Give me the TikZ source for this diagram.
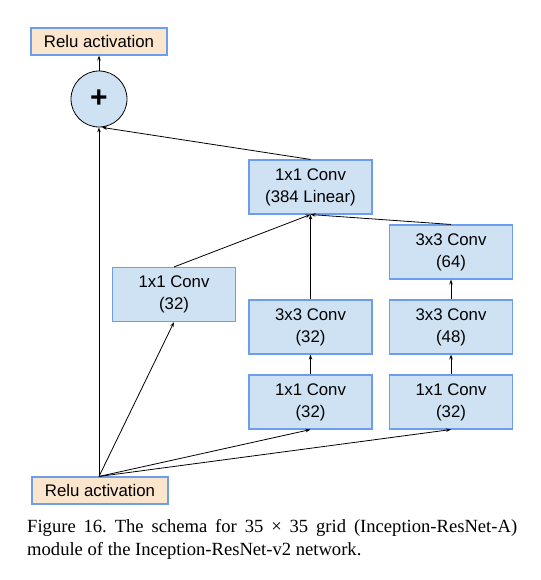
\documentclass[tikz,border=0pt]{standalone}
\usepackage{fontspec}
\setmainfont{Liberation Serif}
\setsansfont{Liberation Sans}
\usetikzlibrary{arrows.meta}
\definecolor{boxblue}{HTML}{CFE2F3}
\definecolor{boxorange}{HTML}{FCE5CD}
\definecolor{edgeblue}{HTML}{6D9EEB}
\frenchspacing
\begin{document}
\begin{tikzpicture}[x=1pt,y=-1pt,
  conv/.style={draw=edgeblue,line width=1.1pt,fill=boxblue,minimum width=123pt,minimum height=54pt,inner sep=0pt,align=center,font=\sffamily\fontsize{16.8}{22}\selectfont},
  relu/.style={draw=edgeblue,line width=1.1pt,fill=boxorange,minimum width=136pt,minimum height=27pt,inner sep=0pt,font=\sffamily\fontsize{16.8}{20}\selectfont},
  sumnode/.style={circle,draw=black,line width=0.8pt,fill=boxblue,minimum size=56pt,inner sep=0pt,font=\sffamily\bfseries\fontsize{30}{30}\selectfont},
  arr/.style={-{Stealth[length=5pt,width=3.5pt]},line width=0.8pt,black},
  captext/.style={anchor=base west,inner sep=0pt,font=\fontsize{18.6}{23}\selectfont}]
\useasboundingbox (0,0) rectangle (540,580);
\node[relu] (top) at (99,41.5) {Relu activation};
\node[sumnode] (sum) at (99,99) {+};
\node[conv] (lin) at (310.5,187) {1x1 Conv\\(384 Linear)};
\node[conv] (a1) at (174,294.5) {1x1 Conv\\(32)};
\node[conv] (b2) at (310.5,327) {3x3 Conv\\(32)};
\node[conv] (b1) at (310.5,402) {1x1 Conv\\(32)};
\node[conv] (c3) at (451,252) {3x3 Conv\\(64)};
\node[conv] (c2) at (451,327) {3x3 Conv\\(48)};
\node[conv] (c1) at (451,402) {1x1 Conv\\(32)};
\node[relu] (bot) at (100,490.5) {Relu activation};
\draw[arr] (sum.north) -- (top.south);
\draw[arr] (bot.north -| sum.south) -- (sum.south);
\draw[arr] (lin.north) -- ([xshift=3pt]sum.south);
\draw[arr] (bot.north -| sum.south) -- (a1.south);
\draw[arr] (bot.north -| sum.south) -- (b1.south);
\draw[arr] (bot.north -| sum.south) -- (c1.south);
\draw[arr] (b1.north) -- (b2.south);
\draw[arr] (c1.north) -- (c2.south);
\draw[arr] (c2.north) -- (c3.south);
\draw[arr] (a1.north) -- (lin.south);
\draw[arr] (b2.north) -- (lin.south);
\draw[arr] (c3.north) -- (lin.south);
\node[captext] (cap1) at (27,532) {\makebox[490pt][s]{Figure 16. The schema for 35 × 35 grid (Inception-ResNet-A)}};
\node[captext] (cap2) at (27,555) {module of the Inception-ResNet-v2 network.};
\end{tikzpicture}
\end{document}
